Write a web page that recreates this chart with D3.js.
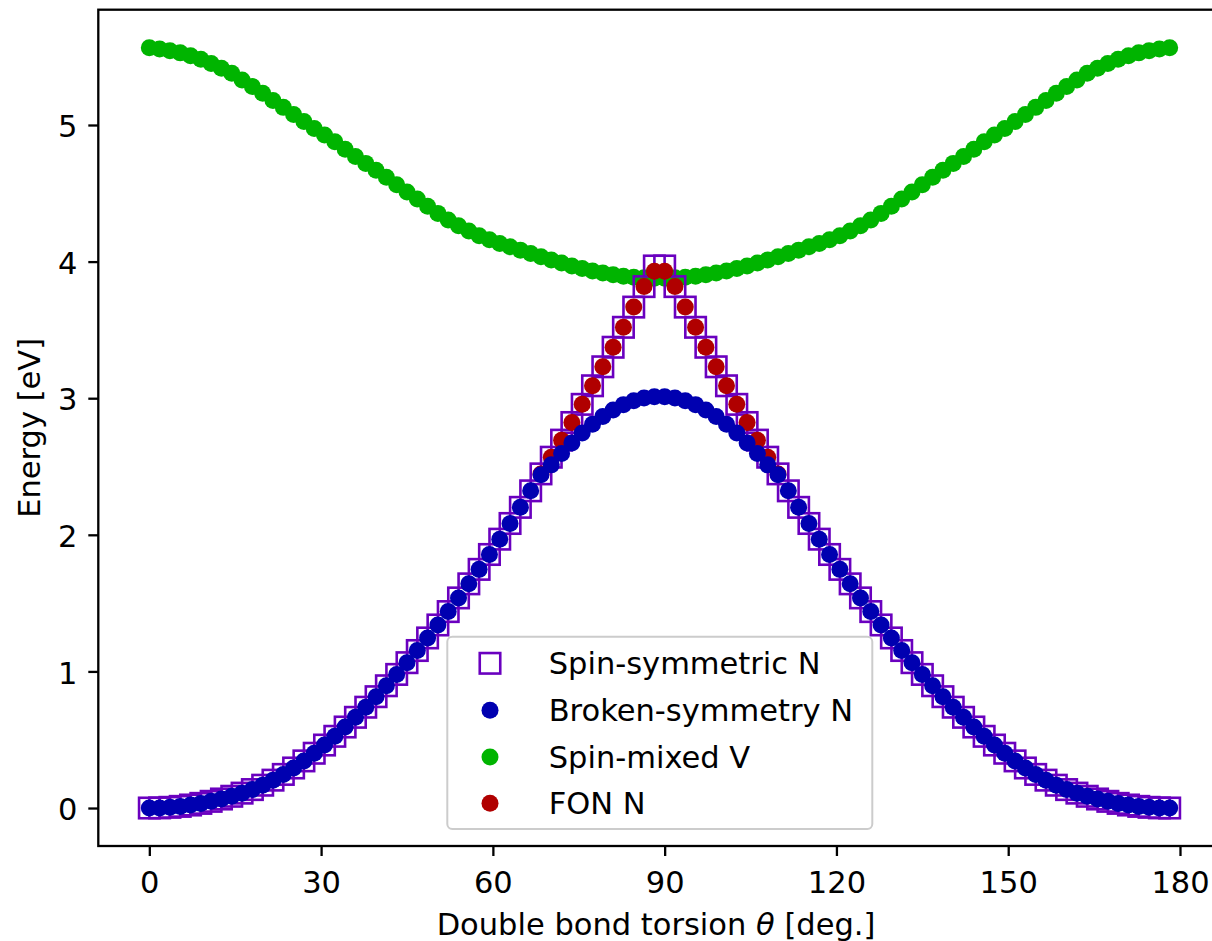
<!DOCTYPE html>
<html>
<head>
<meta charset="utf-8">
<script src="https://cdn.jsdelivr.net/npm/d3@7"></script>
<style>
  html, body { margin: 0; padding: 0; background: #ffffff; }
  svg { display: block; }
  text { font-family: "DejaVu Sans", sans-serif; fill: #000; }
</style>
</head>
<body>
<svg id="chart" width="1212" height="941"></svg>
<script>
// Torsion angle grid (degrees)
const theta = [
  0.0, 1.8, 3.6, 5.4, 7.2, 9.0, 10.8, 12.6, 14.4, 16.2,
  18.0, 19.8, 21.6, 23.4, 25.2, 27.0, 28.8, 30.6, 32.4, 34.2,
  36.0, 37.8, 39.6, 41.4, 43.2, 45.0, 46.8, 48.6, 50.4, 52.2,
  54.0, 55.8, 57.6, 59.4, 61.2, 63.0, 64.8, 66.6, 68.4, 70.2,
  72.0, 73.8, 75.6, 77.4, 79.2, 81.0, 82.8, 84.6, 86.4, 88.2,
  90.0, 91.8, 93.6, 95.4, 97.2, 99.0, 100.8, 102.6, 104.4, 106.2,
  108.0, 109.8, 111.6, 113.4, 115.2, 117.0, 118.8, 120.6, 122.4, 124.2,
  126.0, 127.8, 129.6, 131.4, 133.2, 135.0, 136.8, 138.6, 140.4, 142.2,
  144.0, 145.8, 147.6, 149.4, 151.2, 153.0, 154.8, 156.6, 158.4, 160.2,
  162.0, 163.8, 165.6, 167.4, 169.2, 171.0, 172.8, 174.6, 176.4, 178.2
];

// Spin-symmetric N energies (eV)
const spinSymmetric = [
  0.000, 0.001, 0.005, 0.012, 0.022, 0.034, 0.049, 0.066, 0.086, 0.109,
  0.135, 0.167, 0.204, 0.246, 0.293, 0.345, 0.401, 0.461, 0.525, 0.593,
  0.664, 0.738, 0.815, 0.895, 0.978, 1.064, 1.153, 1.245, 1.340, 1.438,
  1.538, 1.641, 1.747, 1.856, 1.968, 2.083, 2.201, 2.322, 2.446, 2.568,
  2.693, 2.822, 2.955, 3.091, 3.230, 3.373, 3.519, 3.667, 3.817, 3.968,
  3.968, 3.817, 3.667, 3.519, 3.373, 3.230, 3.091, 2.955, 2.822, 2.693,
  2.568, 2.446, 2.322, 2.201, 2.083, 1.968, 1.856, 1.747, 1.641, 1.538,
  1.438, 1.340, 1.245, 1.153, 1.064, 0.978, 0.895, 0.815, 0.738, 0.664,
  0.593, 0.525, 0.461, 0.401, 0.345, 0.293, 0.246, 0.204, 0.167, 0.135,
  0.109, 0.086, 0.066, 0.049, 0.034, 0.022, 0.012, 0.005, 0.001, 0.000
];

// Broken-symmetry N energies (eV)
const brokenSymmetry = [
  0.000, 0.001, 0.005, 0.012, 0.022, 0.034, 0.049, 0.066, 0.086, 0.109,
  0.135, 0.167, 0.204, 0.246, 0.293, 0.345, 0.401, 0.461, 0.525, 0.593,
  0.664, 0.738, 0.815, 0.895, 0.978, 1.064, 1.153, 1.245, 1.340, 1.438,
  1.538, 1.641, 1.747, 1.856, 1.968, 2.083, 2.201, 2.322, 2.440, 2.512,
  2.595, 2.673, 2.745, 2.810, 2.866, 2.914, 2.953, 2.982, 3.001, 3.010,
  3.010, 3.001, 2.982, 2.953, 2.914, 2.866, 2.810, 2.745, 2.673, 2.595,
  2.512, 2.440, 2.322, 2.201, 2.083, 1.968, 1.856, 1.747, 1.641, 1.538,
  1.438, 1.340, 1.245, 1.153, 1.064, 0.978, 0.895, 0.815, 0.738, 0.664,
  0.593, 0.525, 0.461, 0.401, 0.345, 0.293, 0.246, 0.204, 0.167, 0.135,
  0.109, 0.086, 0.066, 0.049, 0.034, 0.022, 0.012, 0.005, 0.001, 0.000
];

// Spin-mixed V energies (eV)
const spinMixed = [
  5.566, 5.556, 5.544, 5.528, 5.507, 5.481, 5.451, 5.416, 5.378, 5.330,
  5.281, 5.232, 5.180, 5.129, 5.077, 5.025, 4.975, 4.926, 4.877, 4.823,
  4.770, 4.719, 4.668, 4.617, 4.563, 4.510, 4.458, 4.405, 4.353, 4.305,
  4.262, 4.224, 4.190, 4.160, 4.133, 4.108, 4.084, 4.060, 4.036, 4.012,
  3.989, 3.968, 3.949, 3.931, 3.916, 3.903, 3.893, 3.886, 3.881, 3.879,
  3.879, 3.881, 3.886, 3.893, 3.903, 3.916, 3.931, 3.949, 3.968, 3.989,
  4.012, 4.036, 4.060, 4.084, 4.108, 4.133, 4.160, 4.190, 4.224, 4.262,
  4.305, 4.353, 4.405, 4.458, 4.510, 4.563, 4.617, 4.668, 4.719, 4.770,
  4.823, 4.877, 4.926, 4.975, 5.025, 5.077, 5.129, 5.180, 5.232, 5.281,
  5.330, 5.378, 5.416, 5.451, 5.481, 5.507, 5.528, 5.544, 5.556, 5.566
];

// FON N: computed only near the twisted geometry
const thetaFON = [
  68.4, 70.2, 72.0, 73.8, 75.6, 77.4, 79.2, 81.0, 82.8, 84.6, 86.4, 88.2,
  90.0, 91.8, 93.6, 95.4, 97.2, 99.0, 100.8, 102.6, 104.4, 106.2, 108.0, 109.8
];
const fonN = [
  2.446, 2.568, 2.693, 2.822, 2.955, 3.091, 3.230, 3.373, 3.519, 3.667, 3.817, 3.930,
  3.930, 3.817, 3.667, 3.519, 3.373, 3.230, 3.091, 2.955, 2.822, 2.693, 2.568, 2.446
];

const xTicks = [0, 30, 60, 90, 120, 150, 180];
const yTicks = [0, 1, 2, 3, 4, 5];

const xLabel = "Double bond torsion";
const yLabel = "Energy [eV]";
const legendLabels = ["Spin-symmetric N", "Broken-symmetry N", "Spin-mixed V", "FON N"];

const colors = {
  sym: "#6a00bf",
  broken: "#0000b0",
  mixed: "#00b400",
  fon: "#b00000"
};

const svg = d3.select("#chart");
const fontSize = 30.5;

// Plot area and scales (5% margins around the data extent)
const x = d3.scaleLinear().domain([-8.91, 187.11]).range([98.3, 1220.7]);
const y = d3.scaleLinear().domain([-0.278, 5.844]).range([846, 9.7]);

const plot = svg.append("g");

const circleR = 8.5;
const sqSide = 20.5;

function circles(xs, ys, color) {
  plot.append("g")
    .selectAll("circle")
    .data(ys)
    .join("circle")
    .attr("cx", (d, i) => x(xs[i]))
    .attr("cy", d => y(d))
    .attr("r", circleR)
    .attr("fill", color);
}

// Spin-mixed V
circles(theta, spinMixed, colors.mixed);

// Spin-symmetric N (open squares)
plot.append("g")
  .selectAll("rect")
  .data(spinSymmetric)
  .join("rect")
  .attr("x", (d, i) => x(theta[i]) - sqSide / 2)
  .attr("y", d => y(d) - sqSide / 2)
  .attr("width", sqSide)
  .attr("height", sqSide)
  .attr("fill", "none")
  .attr("stroke", colors.sym)
  .attr("stroke-width", 2.6);

// FON N
circles(thetaFON, fonN, colors.fon);

// Broken-symmetry N
circles(theta, brokenSymmetry, colors.broken);

// Axes
const xAxis = d3.axisBottom(x).tickValues(xTicks).tickFormat(d3.format("d"))
  .tickSize(10).tickPadding(15).tickSizeOuter(0);
const yAxis = d3.axisLeft(y).tickValues(yTicks).tickFormat(d3.format("d"))
  .tickSize(10).tickPadding(11).tickSizeOuter(0);

const gx = svg.append("g").attr("transform", `translate(0,${y.range()[0]})`).call(xAxis);
const gy = svg.append("g").attr("transform", `translate(${x.range()[0]},0)`).call(yAxis);

[gx, gy].forEach(g => {
  g.select(".domain").remove();
  g.selectAll(".tick line").attr("stroke", "#000").attr("stroke-width", 2.3);
  g.selectAll(".tick text")
    .attr("font-family", "DejaVu Sans")
    .attr("font-size", fontSize)
    .attr("fill", "#000");
});
gy.selectAll(".tick text").attr("dy", "0.38em");

// Frame
svg.append("rect")
  .attr("x", x.range()[0])
  .attr("y", y.range()[1])
  .attr("width", x.range()[1] - x.range()[0])
  .attr("height", y.range()[0] - y.range()[1])
  .attr("fill", "none")
  .attr("stroke", "#000")
  .attr("stroke-width", 2.3);

// Axis labels
const xl = svg.append("text")
  .attr("x", 656)
  .attr("y", 935)
  .attr("text-anchor", "middle")
  .attr("font-size", fontSize);
xl.append("tspan").text(xLabel + " ");
xl.append("tspan").attr("font-style", "italic").text("θ");
xl.append("tspan").text(" [deg.]");

svg.append("text")
  .attr("transform", `translate(39.5,${(y.range()[0] + y.range()[1]) / 2}) rotate(-90)`)
  .attr("text-anchor", "middle")
  .attr("font-size", fontSize)
  .text(yLabel);

// Legend
const leg = svg.append("g");
leg.append("rect")
  .attr("x", 447.3).attr("y", 636.7)
  .attr("width", 425).attr("height", 192.3)
  .attr("rx", 5)
  .attr("fill", "#fff").attr("fill-opacity", 0.8)
  .attr("stroke", "#cccccc").attr("stroke-width", 2);

const rowY = [663.3, 710.3, 757, 803.3];
const markerX = 490;
const textX = 548.7;
const legendMarks = [
  { type: "square", color: colors.sym },
  { type: "circle", color: colors.broken },
  { type: "circle", color: colors.mixed },
  { type: "circle", color: colors.fon }
];
legendMarks.forEach((m, i) => {
  if (m.type === "square") {
    leg.append("rect")
      .attr("x", markerX - sqSide / 2).attr("y", rowY[i] - sqSide / 2)
      .attr("width", sqSide).attr("height", sqSide)
      .attr("fill", "none").attr("stroke", m.color).attr("stroke-width", 2.6);
  } else {
    leg.append("circle")
      .attr("cx", markerX).attr("cy", rowY[i]).attr("r", circleR)
      .attr("fill", m.color);
  }
  leg.append("text")
    .attr("x", textX)
    .attr("y", rowY[i])
    .attr("dy", "0.36em")
    .attr("font-size", fontSize)
    .text(legendLabels[i]);
});
</script>
</body>
</html>
